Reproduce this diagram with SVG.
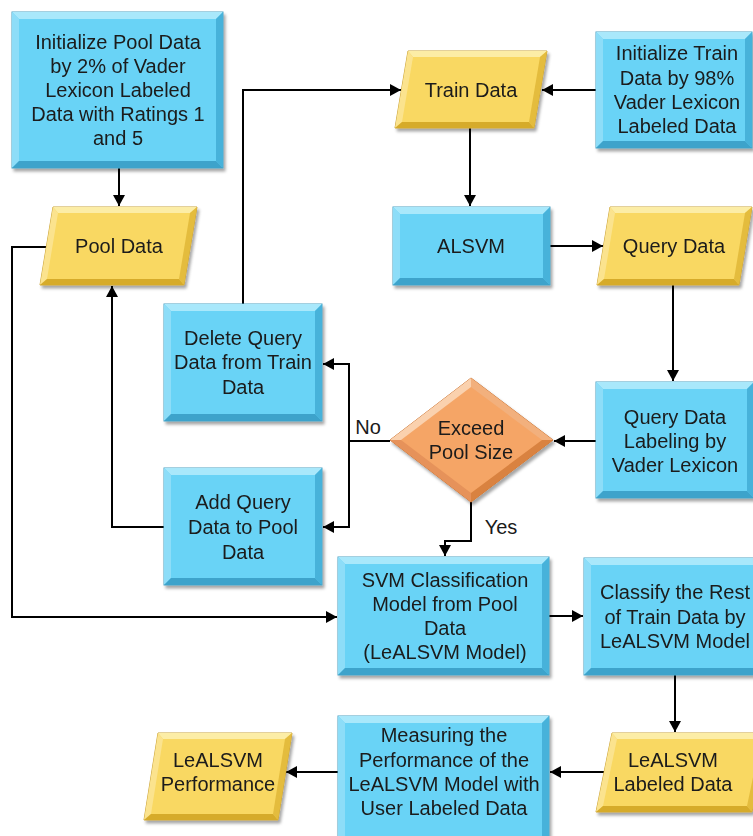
<svg xmlns="http://www.w3.org/2000/svg" width="753" height="836" viewBox="0 0 753 836">
<defs>
<filter id="sh" x="-10%" y="-10%" width="125%" height="125%">
<feDropShadow dx="2" dy="3" stdDeviation="1.8" flood-color="#000" flood-opacity="0.35"/>
</filter>
<marker id="ah" markerUnits="userSpaceOnUse" markerWidth="12" markerHeight="12" refX="11" refY="6" orient="auto">
<path d="M0,0 L11,6 L0,12 Z" fill="#000"/>
</marker>
<style>
.bf{fill:#69D3F6;stroke:#4A9FC2;stroke-width:1}
.bt{fill:#A9E8FB}.bl{fill:#8DDDF8}.br{fill:#46B2DA}.bb{fill:#3CA3CB}
.yf{fill:#F9D862;stroke:#C9A23A;stroke-width:1}
.yt{fill:#FCEDA6}.yl{fill:#FBE38E}.yr{fill:#E4BC3E}.yb{fill:#D6AB2C}
.of{fill:#F5A566;stroke:#C9773A;stroke-width:1}
.ot{fill:#FAD1AE}.or{fill:#F2B07D}.ob{fill:#D9823F}.ol{fill:#E6925A}
text{font-family:"Liberation Sans",Arial,sans-serif;font-size:20px;fill:#1A1A1A;text-anchor:middle}
.cn{fill:none;stroke:#000;stroke-width:2}
.cn path, .cn polyline, .cn line{marker-end:url(#ah)}
</style>
</defs>

<g id="connectors" class="cn">
<line x1="119" y1="168" x2="119" y2="206"/>
<line x1="596" y1="90" x2="542" y2="90"/>
<line x1="470" y1="128" x2="470" y2="206"/>
<line x1="550" y1="246" x2="603" y2="246"/>
<line x1="673" y1="285" x2="673" y2="381"/>
<line x1="596" y1="441" x2="554" y2="441"/>
<polyline points="390,441 349,441 349,364 323,364" fill="none"/>
<polyline points="349,441 349,527 323,527" fill="none"/>
<polyline points="471,502 471,541 445,541 445,556" fill="none"/>
<polyline points="243,304 243,90 401,90" fill="none"/>
<polyline points="164,527 112,527 112,286" fill="none"/>
<polyline points="46,247 12,247 12,617 337,617" fill="none"/>
<line x1="549" y1="616" x2="583" y2="616"/>
<line x1="675" y1="675" x2="675" y2="732"/>
<line x1="604" y1="772" x2="550" y2="772"/>
<line x1="338" y1="772" x2="286" y2="772"/>
</g>

<g id="init_pool" filter="url(#sh)">
<rect class="bf" x="12" y="12" width="211" height="156"/>
<polygon class="bt" points="12,12 223,12 216,19 19,19"/>
<polygon class="bl" points="12,12 19,19 19,161 12,168"/>
<polygon class="br" points="223,12 223,168 216,161 216,19"/>
<polygon class="bb" points="12,168 223,168 216,161 19,161"/>
<text x="118" y="49">Initialize Pool Data</text>
<text x="118" y="73">by 2% of Vader</text>
<text x="118" y="97">Lexicon Labeled</text>
<text x="118" y="121">Data with Ratings 1</text>
<text x="118" y="145">and 5</text>
</g>

<g id="pool_data" filter="url(#sh)">
<polygon class="yf" points="53,207 197,207 184,285 40,285"/>
<polygon class="yt" points="53,207 197,207 190,213 58,213"/>
<polygon class="yl" points="53,207 58,213 47,279 40,285"/>
<polygon class="yr" points="197,207 184,285 179,279 190,213"/>
<polygon class="yb" points="40,285 47,279 179,279 184,285"/>
<text x="119" y="253">Pool Data</text>
</g>

<g id="train_data" filter="url(#sh)">
<polygon class="yf" points="408,51 547,51 534,128 395,128"/>
<polygon class="yt" points="408,51 547,51 540,57 413,57"/>
<polygon class="yl" points="408,51 413,57 402,122 395,128"/>
<polygon class="yr" points="547,51 534,128 529,122 540,57"/>
<polygon class="yb" points="395,128 402,122 529,122 534,128"/>
<text x="471" y="97">Train Data</text>
</g>

<g id="init_train" filter="url(#sh)">
<rect class="bf" x="596" y="32" width="156" height="116"/>
<polygon class="bt" points="596,32 752,32 745,39 603,39"/>
<polygon class="bl" points="596,32 603,39 603,141 596,148"/>
<polygon class="br" points="752,32 752,148 745,141 745,39"/>
<polygon class="bb" points="596,148 752,148 745,141 603,141"/>
<text x="677" y="60">Initialize Train</text>
<text x="677" y="85">Data by 98%</text>
<text x="677" y="109">Vader Lexicon</text>
<text x="677" y="133">Labeled Data</text>
</g>

<g id="alsvm" filter="url(#sh)">
<rect class="bf" x="393" y="207" width="157" height="78"/>
<polygon class="bt" points="393,207 550,207 543,214 400,214"/>
<polygon class="bl" points="393,207 400,214 400,278 393,285"/>
<polygon class="br" points="550,207 550,285 543,278 543,214"/>
<polygon class="bb" points="393,285 550,285 543,278 400,278"/>
<text x="471" y="253">ALSVM</text>
</g>

<g id="query_data" filter="url(#sh)">
<polygon class="yf" points="610,207 752,207 739,285 597,285"/>
<polygon class="yt" points="610,207 752,207 745,213 615,213"/>
<polygon class="yl" points="610,207 615,213 604,279 597,285"/>
<polygon class="yr" points="752,207 739,285 734,279 745,213"/>
<polygon class="yb" points="597,285 604,279 734,279 739,285"/>
<text x="674" y="253">Query Data</text>
</g>

<g id="query_labeling" filter="url(#sh)">
<rect class="bf" x="596" y="382" width="158" height="116"/>
<polygon class="bt" points="596,382 754,382 747,389 603,389"/>
<polygon class="bl" points="596,382 603,389 603,491 596,498"/>
<polygon class="br" points="754,382 754,498 747,491 747,389"/>
<polygon class="bb" points="596,498 754,498 747,491 603,491"/>
<text x="675" y="424">Query Data</text>
<text x="675" y="448">Labeling by</text>
<text x="675" y="472">Vader Lexicon</text>
</g>

<g id="exceed" filter="url(#sh)">
<polygon class="of" points="390,440 471,378 553,440 471,502"/>
<polygon class="ot" points="390,440 471,378 471,387 401,440"/>
<polygon class="or" points="471,378 553,440 542,440 471,387"/>
<polygon class="ob" points="553,440 471,502 471,493 542,440"/>
<polygon class="ol" points="471,502 390,440 401,440 471,493"/>
<text x="471" y="435">Exceed</text>
<text x="471" y="459">Pool Size</text>
</g>

<g id="delete_query" filter="url(#sh)">
<rect class="bf" x="164" y="304" width="158" height="117"/>
<polygon class="bt" points="164,304 322,304 315,311 171,311"/>
<polygon class="bl" points="164,304 171,311 171,414 164,421"/>
<polygon class="br" points="322,304 322,421 315,414 315,311"/>
<polygon class="bb" points="164,421 322,421 315,414 171,414"/>
<text x="243" y="345">Delete Query</text>
<text x="243" y="369">Data from Train</text>
<text x="243" y="394">Data</text>
</g>

<g id="add_query" filter="url(#sh)">
<rect class="bf" x="164" y="468" width="158" height="117"/>
<polygon class="bt" points="164,468 322,468 315,475 171,475"/>
<polygon class="bl" points="164,468 171,475 171,578 164,585"/>
<polygon class="br" points="322,468 322,585 315,578 315,475"/>
<polygon class="bb" points="164,585 322,585 315,578 171,578"/>
<text x="243" y="509">Add Query</text>
<text x="243" y="534">Data to Pool</text>
<text x="243" y="559">Data</text>
</g>

<g id="svm_model" filter="url(#sh)">
<rect class="bf" x="338" y="557" width="211" height="118"/>
<polygon class="bt" points="338,557 549,557 542,564 345,564"/>
<polygon class="bl" points="338,557 345,564 345,668 338,675"/>
<polygon class="br" points="549,557 549,675 542,668 542,564"/>
<polygon class="bb" points="338,675 549,675 542,668 345,668"/>
<text x="445" y="587">SVM Classification</text>
<text x="445" y="611">Model from Pool</text>
<text x="445" y="635">Data</text>
<text x="445" y="659">(LeALSVM Model)</text>
</g>

<g id="classify_rest" filter="url(#sh)">
<rect class="bf" x="584" y="558" width="182" height="117"/>
<polygon class="bt" points="584,558 766,558 759,565 591,565"/>
<polygon class="bl" points="584,558 591,565 591,668 584,675"/>
<polygon class="br" points="766,558 766,675 759,668 759,565"/>
<polygon class="bb" points="584,675 766,675 759,668 591,668"/>
<text x="675" y="599">Classify the Rest</text>
<text x="675" y="624">of Train Data by</text>
<text x="675" y="648">LeALSVM Model</text>
</g>

<g id="labeled_data" filter="url(#sh)">
<polygon class="yf" points="612,733 768,733 752,812 596,812"/>
<polygon class="yt" points="612,733 768,733 761,739 617,739"/>
<polygon class="yl" points="612,733 617,739 603,806 596,812"/>
<polygon class="yr" points="768,733 752,812 747,806 761,739"/>
<polygon class="yb" points="596,812 603,806 747,806 752,812"/>
<text x="673" y="767">LeALSVM</text>
<text x="673" y="791">Labeled Data</text>
</g>

<g id="measuring" filter="url(#sh)">
<rect class="bf" x="338" y="716" width="211" height="130"/>
<polygon class="bt" points="338,716 549,716 542,723 345,723"/>
<polygon class="bl" points="338,716 345,723 345,839 338,846"/>
<polygon class="br" points="549,716 549,846 542,839 542,723"/>
<text x="444" y="742">Measuring the</text>
<text x="444" y="767">Performance of the</text>
<text x="444" y="791">LeALSVM Model with</text>
<text x="444" y="815">User Labeled Data</text>
</g>

<g id="performance" filter="url(#sh)">
<polygon class="yf" points="158,733 292,733 278,820 144,820"/>
<polygon class="yt" points="158,733 292,733 285,739 163,739"/>
<polygon class="yl" points="158,733 163,739 151,814 144,820"/>
<polygon class="yr" points="292,733 278,820 273,814 285,739"/>
<polygon class="yb" points="144,820 151,814 273,814 278,820"/>
<text x="218" y="767">LeALSVM</text>
<text x="218" y="791">Performance</text>
</g>

<g id="labels">
<text x="368" y="434">No</text>
<text x="501" y="534">Yes</text>
</g>
</svg>
